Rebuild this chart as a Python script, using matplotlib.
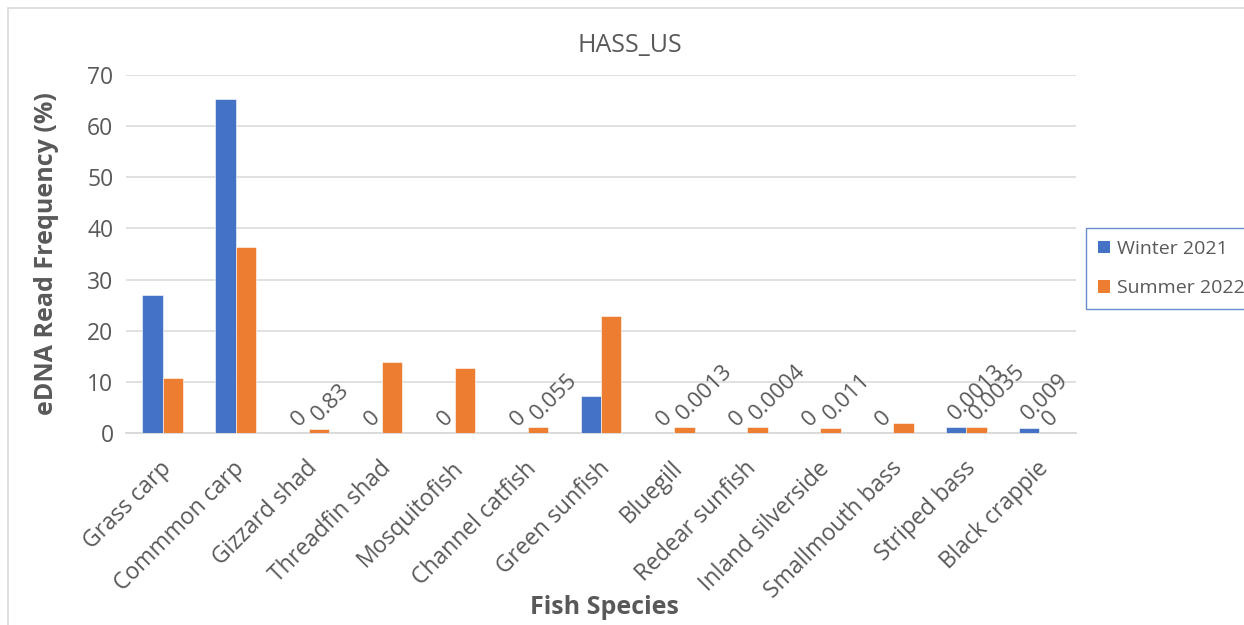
import matplotlib
matplotlib.use("Agg")
import matplotlib.pyplot as plt
from matplotlib.patches import Rectangle
import matplotlib.transforms as mtransforms
import numpy as np

plt.rcParams['font.family'] = ['Open Sans', 'DejaVu Sans']

species = ["Grass carp", "Commmon carp", "Gizzard shad", "Threadfin shad",
           "Mosquitofish", "Channel catfish", "Green sunfish", "Bluegill",
           "Redear sunfish", "Inland silverside", "Smallmouth bass",
           "Striped bass", "Black crappie"]
winter_2021 = [27.0, 65.4, 0, 0, 0, 0, 7.2, 0, 0, 0, 0, 1.2, 1.05]
summer_2022 = [10.8, 36.3, 0.83, 13.9, 12.7, 1.2, 22.9, 1.2, 1.2, 1.05, 1.9, 1.2, 0]
# printed values for the small entries (None = no label)
winter_labels = [None, None, "0", "0", "0", "0", None, "0", "0", "0", "0", "0.0013", "0.009"]
summer_labels = [None, None, "0.83", None, None, "0.055", None, "0.0013", "0.0004", "0.011", None, "0.0035", "0"]

series_names = ["Winter 2021", "Summer 2022"]
blue = "#4472C4"
orange = "#ED7D31"
gray_text = "#595959"
grid_col = "#D9D9D9"

W, H = 1244, 625
fig = plt.figure(figsize=(W / 100, H / 100), dpi=100)
fig.patch.set_facecolor("white")

# outer chart frame (runs off the right and bottom edges)
fig.patches.append(Rectangle((8 / W, -0.2), 1.2, 1.2 - 8 / H, transform=fig.transFigure,
                             fill=False, edgecolor=grid_col, linewidth=1.2))

ax = fig.add_axes([126 / W, 1 - 433 / H, (1076 - 126) / W, (433 - 75) / H])
x = np.arange(len(species))
bw = 0.28
b1 = ax.bar(x - bw / 2, winter_2021, bw, color=blue, edgecolor="white", linewidth=0.4,
            label=series_names[0], zorder=3)
b2 = ax.bar(x + bw / 2, summer_2022, bw, color=orange, edgecolor="white", linewidth=0.4,
            label=series_names[1], zorder=3)

ax.set_xlim(-0.5, len(species) - 0.5)
ax.set_ylim(0, 70)
ax.set_yticks(np.arange(0, 71, 10))
ax.yaxis.grid(True, color=grid_col, linewidth=1.1, zorder=0)
ax.set_axisbelow(True)
for s in ["top", "right", "left"]:
    ax.spines[s].set_visible(False)
ax.spines["bottom"].set_color(grid_col)
ax.spines["bottom"].set_linewidth(1.3)
ax.tick_params(axis="y", length=0, pad=9, labelsize=16.5, labelcolor=gray_text)
ax.tick_params(axis="x", length=0, pad=17, labelsize=16.5, labelcolor=gray_text)
ax.set_xticks(x)
ax.set_xticklabels(species, rotation=45, ha="right", va="top", rotation_mode="anchor")
shift = mtransforms.ScaledTranslation(-3 / 100, 0, fig.dpi_scale_trans)
for lbl in ax.get_xticklabels():
    lbl.set_transform(lbl.get_transform() + shift)

# value labels
for xs, vals, labs in ((x - bw / 2, winter_2021, winter_labels), (x + bw / 2, summer_2022, summer_labels)):
    for xi, v, lab in zip(xs, vals, labs):
        if lab is None:
            continue
        ax.annotate(lab, (xi, v), xytext=(2.5, 2), textcoords="offset points",
                    rotation=45, rotation_mode="anchor", ha="left", va="bottom",
                    fontsize=16, color=gray_text)

fig.text(630 / W, 1 - 45 / H, "HASS_US", ha="center", va="center", fontsize=18, color=gray_text)
fig.text(47 / W, 1 - 254 / H, "eDNA Read Frequency (%)", rotation=90, ha="center", va="center",
         fontsize=18, fontweight="bold", color=gray_text)
fig.text(604 / W, 1 - 607 / H, "Fish Species", ha="center", va="center",
         fontsize=18, fontweight="bold", color=gray_text)

leg = fig.legend(handles=[b1, b2], labels=series_names, loc="upper left",
                 bbox_to_anchor=(1086 / W, 1 - 228 / H), borderaxespad=0, frameon=True,
                 fancybox=False, fontsize=14, handlelength=0.62, handleheight=0.62,
                 handletextpad=0.35, labelspacing=1.1, borderpad=0.6, labelcolor=gray_text)
leg.get_frame().set_edgecolor(blue)
leg.get_frame().set_linewidth(1.0)
for h in leg.legend_handles:
    h.set_edgecolor("none")

fig.savefig("out.png", dpi=100)
